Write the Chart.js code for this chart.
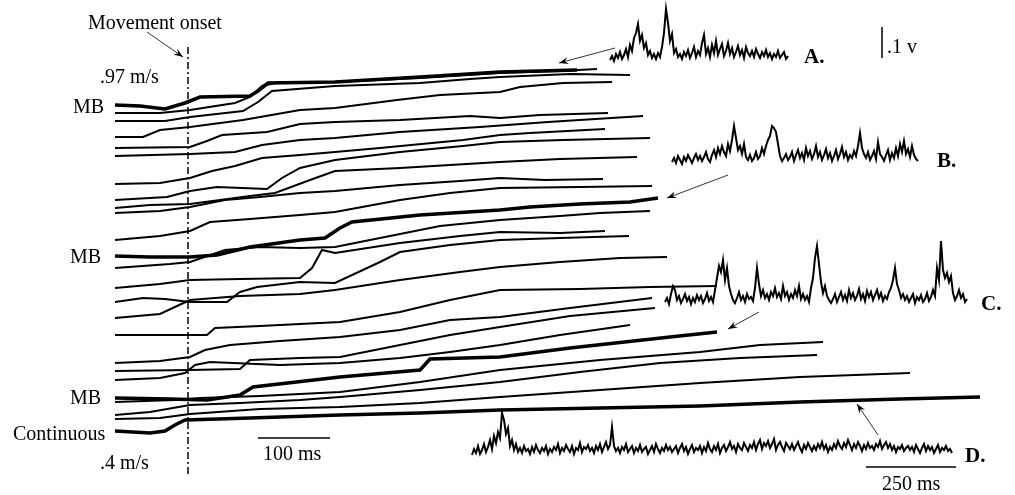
<!doctype html>
<html lang="en">
<head>
  <meta charset="utf-8">
  <title>Movement velocity traces and EMG</title>
  <script src="https://cdn.jsdelivr.net/npm/chart.js"></script>
  <style>
    body { margin: 0; background: #fff; }
    #wrap { width: 1015px; height: 495px; }
  </style>
</head>
<body>
  <div id="wrap"><canvas id="chart"></canvas></div>

  <script>
    // velocity traces, [x, y] (y grows downward)
    const traces = [
      [[115,105],[140,106],[165,109],[185,103],[200,97],[250,96],[258,91],[268,83],[335,82],[420,77],[500,72],[577,70]],
      [[115,113],[160,113],[190,110],[235,103],[250,97],[262,86],[280,82],[335,82],[420,78],[500,73],[560,71],[597,69]],
      [[115,121],[165,121],[190,117],[243,111],[258,102],[272,91],[335,86],[420,83],[470,79],[500,77],[570,74],[630,75]],
      [[115,137],[143,137],[160,130],[190,127],[243,120],[300,110],[335,108],[397,100],[440,95],[500,92],[520,87],[563,83],[612,82]],
      [[115,148],[190,147],[207,141],[222,135],[267,132],[300,124],[335,122],[400,120],[470,116],[500,118],[540,115],[608,113]],
      [[115,156],[190,154],[235,152],[262,145],[300,140],[335,138],[400,132],[480,127],[548,122],[643,116]],
      [[115,184],[160,183],[190,178],[212,171],[235,166],[262,158],[300,155],[335,152],[380,148],[463,140],[500,135],[530,133],[605,129]],
      [[115,200],[167,197],[190,191],[217,187],[267,189],[282,178],[300,168],[335,160],[400,152],[463,146],[500,142],[563,140],[650,138]],
      [[115,208],[150,205],[190,204],[250,196],[275,193],[310,180],[335,171],[400,168],[450,165],[500,162],[560,159],[637,157]],
      [[115,213],[160,211],[190,207],[225,200],[260,197],[300,193],[335,191],[400,185],[460,181],[500,178],[545,180],[603,179]],
      [[115,240],[160,236],[190,231],[210,222],[250,219],[300,215],[335,212],[400,200],[450,193],[500,188],[580,187],[652,186]],
      [[115,256],[150,257],[190,257],[217,255],[250,247],[300,240],[325,238],[340,228],[352,222],[420,215],[500,210],[530,207],[580,204],[630,202],[658,198]],
      [[115,268],[170,264],[190,262],[225,250],[260,247],[300,248],[335,247],[380,238],[440,226],[500,220],[560,216],[600,213],[650,211]],
      [[115,288],[160,284],[190,280],[240,279],[300,278],[312,268],[322,250],[335,253],[400,243],[460,236],[500,232],[560,233],[605,231]],
      [[115,302],[143,298],[165,299],[190,302],[227,302],[240,292],[257,287],[300,282],[335,283],[380,262],[400,252],[450,245],[500,240],[560,238],[629,236]],
      [[115,318],[160,314],[177,306],[190,300],[240,296],[300,294],[335,290],[400,280],[460,272],[500,267],[560,262],[620,258],[667,257]],
      [[115,335],[160,335],[207,335],[215,328],[260,326],[300,324],[340,322],[400,312],[450,300],[500,290],[580,289],[650,287],[717,286]],
      [[115,363],[160,361],[190,357],[205,350],[230,345],[280,341],[340,337],[400,330],[450,320],[500,317],[570,308],[652,298]],
      [[115,371],[190,370],[240,369],[250,360],[300,358],[340,357],[400,345],[450,335],[500,327],[570,316],[655,308]],
      [[115,380],[160,378],[185,373],[195,365],[210,362],[280,365],[340,363],[400,358],[450,352],[500,345],[560,335],[630,325]],
      [[115,398],[170,399],[207,400],[240,395],[253,387],[340,377],[420,370],[430,359],[500,357],[570,348],[670,337],[717,332]],
      [[115,402],[175,400],[200,398],[260,396],[340,392],[420,382],[500,370],[600,360],[700,352],[760,345],[823,342]],
      [[115,415],[150,412],[190,405],[240,403],[300,400],[340,397],[420,390],[500,382],[580,372],[660,363],[740,358],[817,355]],
      [[115,419],[160,418],[190,414],[260,409],[340,407],[420,403],[500,397],[600,390],[700,383],[800,377],[910,373]],
      [[115,431],[150,433],[165,431],[175,425],[185,420],[250,418],[340,415],[420,413],[500,410],[600,408],[700,406],[800,402],[900,399],[980,397]]
    ];
    const thickTraces = [0, 11, 20, 24];

    // rectified EMG amplitude samples (pixels above baseline)
    const emgA = [3,7,2,9,5,11,4,8,14,6,18,12,25,30,39,22,28,15,20,8,12,5,9,4,10,6,16,30,54,40,22,29,10,14,6,
      9,4,11,7,13,5,10,16,6,12,8,20,28,9,15,6,18,10,22,8,14,19,7,12,20,9,15,6,11,17,8,13,5,16,10,7,
      12,6,14,9,5,11,7,13,6,10,4,9,6,12,5,8,11,4,7];
    const emgB = [4,8,3,10,6,2,9,5,11,7,3,8,12,6,10,5,9,14,7,4,11,16,9,18,12,20,14,10,22,15,26,
      40,28,16,20,12,22,9,6,11,5,8,14,7,10,18,12,20,26,30,40,38,34,22,10,5,8,
      12,6,9,14,5,11,16,8,13,6,18,10,15,7,12,20,9,14,6,11,17,8,13,5,10,16,7,12,19,9,14,6,11,8,15,10,
      20,33,18,12,8,14,6,10,15,7,24,12,9,5,11,16,6,13,8,18,10,22,14,25,12,17,9,20,11,7,5];
    const emgC = [6,10,4,14,22,18,8,12,5,9,14,7,11,4,10,6,13,8,12,5,9,15,7,11,6,
      18,30,42,36,48,28,40,22,14,8,5,10,16,8,12,6,14,9,11,7,20,40,24,12,18,
      10,14,8,16,12,20,11,15,9,22,12,16,8,14,10,18,12,22,9,14,8,12,6,20,30,
      50,62,44,26,15,22,12,8,5,9,14,6,11,16,8,13,7,18,10,15,8,12,19,9,
      14,7,17,11,16,8,13,18,10,15,7,12,9,16,20,28,40,24,18,10,14,8,
      12,6,10,14,5,11,8,13,6,9,15,7,11,18,12,40,28,67,38,30,35,26,32,15,8,12,18,10,14,6,9];
    const emgD = [3,9,5,12,4,8,14,6,11,18,9,22,15,26,20,45,38,24,30,12,
      18,8,14,6,10,5,12,7,9,4,11,6,13,8,5,10,7,12,4,9,
      6,11,8,14,5,10,7,13,9,6,12,4,10,8,15,6,11,9,13,7,
      10,5,12,8,14,6,11,16,9,13,31,12,7,10,5,11,8,14,6,9,
      12,5,10,7,13,6,9,11,4,8,12,6,14,9,5,10,7,13,8,11,
      6,9,12,5,10,14,7,11,4,9,13,6,10,8,12,5,11,7,15,9,
      6,12,8,14,5,10,13,7,11,16,9,12,6,14,10,8,15,11,7,13,
      10,16,8,14,18,9,15,12,17,10,14,19,8,13,16,11,7,15,12,9,
      14,8,12,16,10,6,13,9,15,11,7,12,8,14,10,16,9,13,6,11,
      8,14,10,17,12,9,15,11,18,13,8,14,10,16,12,7,13,9,15,10,
      12,8,14,11,17,9,13,16,10,14,8,12,6,11,9,13,7,10,12,8,
      11,6,13,9,5,10,14,7,12,8,11,5,9,13,6,10,8,12,7,9,5];

    const sideLabels = ['.97 m/s', 'MB', 'MB', 'MB', 'Continuous', '.4 m/s'];
    const emgLabels = ['A.', 'B.', 'C.', 'D.'];

    // where each EMG strip sits on the sheet
    const emgPlace = [
      { data: emgA, x0: 610, dx: 2, base: 63 },
      { data: emgB, x0: 672, dx: 2, base: 166 },
      { data: emgC, x0: 665, dx: 2, base: 308 },
      { data: emgD, x0: 472, dx: 2, base: 458 }
    ];

    const datasets = [];
    traces.forEach((t, i) => {
      datasets.push({
        data: t.map(p => ({ x: p[0], y: p[1] })),
        borderColor: '#000',
        borderWidth: thickTraces.includes(i) ? 3.6 : 2
      });
    });
    emgPlace.forEach(e => {
      datasets.push({
        data: e.data.map((v, i) => ({ x: e.x0 + i * e.dx, y: e.base - v })),
        borderColor: '#000',
        borderWidth: 2
      });
    });
    // movement onset marker and scale bars
    datasets.push({ data: [{x:188,y:47},{x:188,y:476}], borderColor: '#000', borderWidth: 1.5, borderDash: [7,3,2,3] });
    datasets.push({ data: [{x:258,y:438},{x:330,y:438}], borderColor: '#000', borderWidth: 1.5 });
    datasets.push({ data: [{x:866,y:467},{x:956,y:467}], borderColor: '#000', borderWidth: 1.5 });
    datasets.push({ data: [{x:882,y:27},{x:882,y:58}], borderColor: '#000', borderWidth: 1.5 });

    const arrows = [
      [147,32,183,57],
      [615,48,559,63],
      [728,175,667,198],
      [759,312,728,329],
      [878,435,857,404]
    ];

    const annotate = {
      id: 'annotate',
      afterDraw(chart) {
        const c = chart.ctx, sx = chart.scales.x, sy = chart.scales.y;
        const X = v => sx.getPixelForValue(v), Y = v => sy.getPixelForValue(v);
        c.save();
        c.fillStyle = '#000';
        c.strokeStyle = '#000';
        c.font = '20px "Liberation Serif"';
        c.textBaseline = 'alphabetic';
        c.fillText('Movement onset', X(88), Y(29));
        const sidePos = [[100,83],[73,113],[70,263],[70,404],[13,440],[100,469]];
        sideLabels.forEach((s, i) => c.fillText(s, X(sidePos[i][0]), Y(sidePos[i][1])));
        c.fillText('100 ms', X(263), Y(460));
        c.fillText('250 ms', X(882), Y(490));
        c.fillText('.1 v', X(887), Y(53));
        c.font = 'bold 21px "Liberation Serif"';
        const emgPos = [[804,63],[937,167],[981,310],[965,462]];
        emgLabels.forEach((s, i) => c.fillText(s, X(emgPos[i][0]), Y(emgPos[i][1])));
        c.lineWidth = 0.8;
        arrows.forEach(a => {
          const x1 = X(a[0]), y1 = Y(a[1]), x2 = X(a[2]), y2 = Y(a[3]);
          const ang = Math.atan2(y2 - y1, x2 - x1);
          c.beginPath(); c.moveTo(x1, y1); c.lineTo(x2, y2); c.stroke();
          c.beginPath();
          c.moveTo(x2, y2);
          c.lineTo(x2 - 10 * Math.cos(ang - 0.35), y2 - 10 * Math.sin(ang - 0.35));
          c.lineTo(x2 - 6 * Math.cos(ang), y2 - 6 * Math.sin(ang));
          c.lineTo(x2 - 10 * Math.cos(ang + 0.35), y2 - 10 * Math.sin(ang + 0.35));
          c.closePath(); c.fill();
        });
        c.restore();
      }
    };

    new Chart(document.getElementById('chart'), {
      type: 'scatter',
      data: { datasets: datasets },
      options: {
        responsive: true,
        maintainAspectRatio: false,
        animation: false,
        showLine: true,
        elements: { point: { radius: 0 }, line: { tension: 0, fill: false } },
        layout: { padding: 0 },
        plugins: { legend: { display: false }, tooltip: { enabled: false } },
        scales: {
          x: { type: 'linear', min: 0, max: 1015, display: false },
          y: { type: 'linear', min: 0, max: 495, reverse: true, display: false }
        }
      },
      plugins: [annotate]
    });
  </script>
</body>
</html>
